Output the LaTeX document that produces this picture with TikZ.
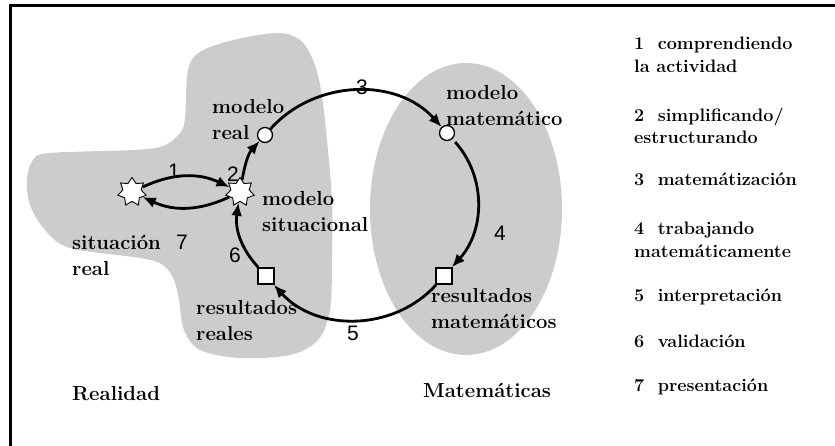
\documentclass[tikz,border=0pt]{standalone}
\usepackage{fontspec}
\newfontfamily\numfont{Liberation Sans}
\usetikzlibrary{shapes.geometric,arrows.meta}
\definecolor{blobgray}{RGB}{204,204,204}
\begin{document}
\begin{tikzpicture}[x=1pt,y=1pt,
  lbl/.style={font=\fontsize{20.3}{26}\selectfont\bfseries, align=left, anchor=west, inner sep=0pt},
  leg/.style={font=\fontsize{18}{22.5}\selectfont\bfseries, align=left, anchor=west, inner sep=0pt},
  num/.style={font=\numfont\fontsize{21}{22}\selectfont, inner sep=0pt},
  circ/.style={circle, draw, fill=white, line width=1.3pt, minimum size=15pt, inner sep=0pt},
  sq/.style={rectangle, draw, fill=white, line width=1.6pt, minimum size=16pt, inner sep=0pt},
  stardot/.style={star, star points=7, star point ratio=1.55, draw, fill=white, line width=0.9pt, minimum size=29pt, inner sep=0pt},
  arr/.style={line width=2.8pt, -{Latex[length=13pt,width=11pt]}},
]
\useasboundingbox (0,0) rectangle (835,-446);
% background regions
\fill[blobgray] plot[smooth cycle, tension=0.55] coordinates {
  (33,-160) (50,-153) (133,-150) (163,-146) (180,-133) (185,-118) (188,-70)
  (200,-52) (233,-40) (278,-33) (300,-40) (313,-60) (321,-90) (327,-140)
  (332,-200) (332,-260) (330,-310) (318,-340) (290,-355) (240,-358) (200,-350)
  (184,-330) (179,-300) (174,-280) (163,-265) (140,-258) (70,-248) (45,-230)
  (30,-205) (27,-180)};
\fill[blobgray] (466,-209) ellipse [x radius=96, y radius=146];
% frame
\draw[line width=3pt, line join=miter] (10,-446) -- (10,-5.5) -- (835,-5.5);
% nodes
\node[stardot] (sit) at (132,-192) {};
\node[stardot] (msit) at (240,-192) {};
\node[circ] (mreal) at (265,-135) {};
\node[circ] (mmat) at (447,-133) {};
\node[sq] (rreal) at (266,-276) {};
\node[sq] (rmat) at (444,-276) {};
% connectors
\draw[arr] (sit) to[out=25,in=155] (msit);
\draw[arr] (msit) to[out=-155,in=-25] (sit);
\draw[arr] (msit) to[out=80,in=228] (mreal);
\draw[arr] (mreal) to[out=48,in=132] (mmat);
\draw[arr, shorten <=4pt] (mmat) to[out=-48,in=48] (rmat);
\draw[arr] (rmat) to[out=228,in=-48] (rreal);
\draw[arr] (rreal) to[out=132,in=262] (msit);
% numbers
\node[num] (n1) at (174,-171) {1};
\node[num] (n2) at (233,-174) {2};
\node[num] (n3) at (362,-87) {3};
\node[num] (n4) at (500,-233) {4};
\node[num] (n5) at (353,-333) {5};
\node[num] (n6) at (235,-255) {6};
\node[num] (n7) at (182,-242) {7};
% labels
\node[lbl] (tmreal) at (212,-120) {modelo\\real};
\node[lbl] (tmsit) at (262,-212) {modelo\\situacional};
\node[lbl] (tsit) at (72,-255) {situación\\real};
\node[lbl] (trreal) at (196,-321) {resultados\\reales};
\node[lbl] (tmmat) at (446,-106) {modelo\\matemático};
\node[lbl] (trmat) at (431,-309) {resultados\\matemáticos};
\node[lbl] (treal) at (72,-394) {Realidad};
\node[lbl] (tmatem) at (423,-390) {Matemáticas};
% legend
\node[leg] (l1) at (634,-55) {1\ \ comprendiendo\\la actividad};
\node[leg] (l2) at (634,-126) {2\ \ simplificando/\\estructurando};
\node[leg] (l3) at (634,-179) {3\ \ matemátización};
\node[leg] (l4) at (634,-240) {4\ \ trabajando\\matemáticamente};
\node[leg] (l5) at (634,-297) {5\ \ interpretación};
\node[leg] (l6) at (634,-341) {6\ \ validación};
\node[leg] (l7) at (634,-387) {7\ \ presentación};
\end{tikzpicture}
\end{document}
